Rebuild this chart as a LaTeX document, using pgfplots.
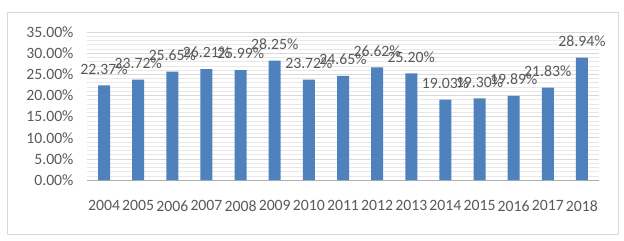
\documentclass[border=0pt]{standalone}
\usepackage{pgfplots}
\pgfplotsset{compat=1.18}
\usepackage{fontspec}
\setmainfont{Carlito}
\definecolor{barblue}{HTML}{4F81BD}
\definecolor{txt}{HTML}{595959}
\definecolor{gridc}{HTML}{D9D9D9}
\definecolor{minorc}{HTML}{E8E8E8}
\begin{document}
\begin{tikzpicture}[x=1bp,y=1bp]
\path[use as bounding box] (0,0) rectangle (624,240);
\draw[gridc] (7,6) rectangle (618,228);
\begin{axis}[
  at={(87bp,60bp)}, anchor=south west,
  scale only axis, width=512bp, height=148bp,
  xmin=-0.5, xmax=14.5, ymin=0, ymax=35,
  xtick=data,
  xticklabels={2004,2005,2006,2007,2008,2009,2010,2011,2012,2013,2014,2015,2016,2017,2018},
  ytick distance=5, minor y tick num=4,
  ymajorgrids, yminorgrids,
  major grid style={gridc, line width=0.6pt},
  minor grid style={minorc, line width=0.5pt},
  axis x line*=bottom, axis y line*=left,
  y axis line style={draw=none},
  x axis line style={gridc!80!black, line width=0.6pt},
  major tick length=0pt, minor tick length=0pt,
  tick style={draw=none},
  /pgf/number format/assume math mode=true,
  yticklabel={\pgfmathprintnumber[fixed,fixed zerofill,precision=2]{\tick}\%},
  every tick label/.append style={font=\fontsize{15.8}{18}\selectfont, text=txt},
  yticklabel style={xshift=-10bp},
  xticklabel style={yshift=-17bp},
  ybar, bar width=12bp,
  nodes near coords={\pgfmathprintnumber[fixed,fixed zerofill,precision=2]{\pgfplotspointmeta}\%},
  nodes near coords style={font=\fontsize{15.8}{18}\selectfont, text=txt, anchor=south, inner sep=0pt, yshift=11bp},
  clip=false,
]
\addplot[fill=barblue, draw=none] coordinates {
(0,22.37) (1,23.72) (2,25.65) (3,26.21) (4,25.99) (5,28.25) (6,23.72) (7,24.65)
(8,26.62) (9,25.20) (10,19.03) (11,19.30) (12,19.89) (13,21.83) (14,28.94)};
\end{axis}
\end{tikzpicture}
\end{document}
